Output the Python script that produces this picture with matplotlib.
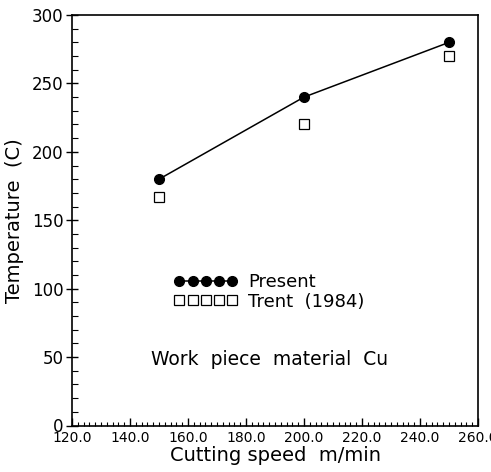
import matplotlib
matplotlib.use("Agg")
import matplotlib.pyplot as plt
from matplotlib.ticker import MultipleLocator, FormatStrFormatter

# cutting speed (m/min) and tool temperature (C)
speed = [150, 200, 250]
temp_present = [180, 240, 280]
temp_trent = [167, 220, 270]

plt.rcParams['font.family'] = ['DejaVu Sans']

fig = plt.figure(figsize=(4.91, 4.72), dpi=100)
ax = fig.add_axes([72/491, 1-425.5/472, (478-72)/491, (425.5-15)/472])

ax.plot(speed, temp_present, color='black', lw=1.1, marker='o', ms=7,
        mfc='black', mec='black', label='Present')
ax.plot(speed, temp_trent, ls='none', marker='s', ms=6.8, mfc='white',
        mec='black', mew=0.9, label='Trent  (1984)')

ax.set_xlim(120, 260)
ax.set_ylim(0, 300)
ax.xaxis.set_major_locator(MultipleLocator(20))
ax.xaxis.set_minor_locator(MultipleLocator(2))
ax.xaxis.set_major_formatter(FormatStrFormatter('%.1f'))
ax.yaxis.set_major_locator(MultipleLocator(50))
ax.yaxis.set_minor_locator(MultipleLocator(10))

ax.tick_params(axis='x', which='major', direction='in', length=6, width=1,
               labelsize=10, pad=4, top=False)
ax.tick_params(axis='x', which='minor', direction='in', length=3, width=0.8, top=False)
ax.tick_params(axis='y', which='major', direction='inout', length=8, width=1,
               labelsize=12, pad=2, right=False)
ax.tick_params(axis='y', which='minor', direction='in', length=4, width=0.8, right=False)
for s in ax.spines.values():
    s.set_linewidth(1.2)

ax.set_xlabel('Cutting speed  m/min', fontsize=14, labelpad=1)
ax.set_ylabel('Temperature  (C)', fontsize=14, labelpad=6)

ax.legend(loc='upper left', bbox_to_anchor=((174-72)/406, 1-(273-15)/410.5),
          frameon=False, numpoints=5, handlelength=3.5, handletextpad=0.6,
          labelspacing=0.1, fontsize=13, borderpad=0, borderaxespad=0)

ax.text(188, 48, 'Work  piece  material  Cu', fontsize=13.5, ha='center', va='center')

fig.savefig('out.png', dpi=100)
